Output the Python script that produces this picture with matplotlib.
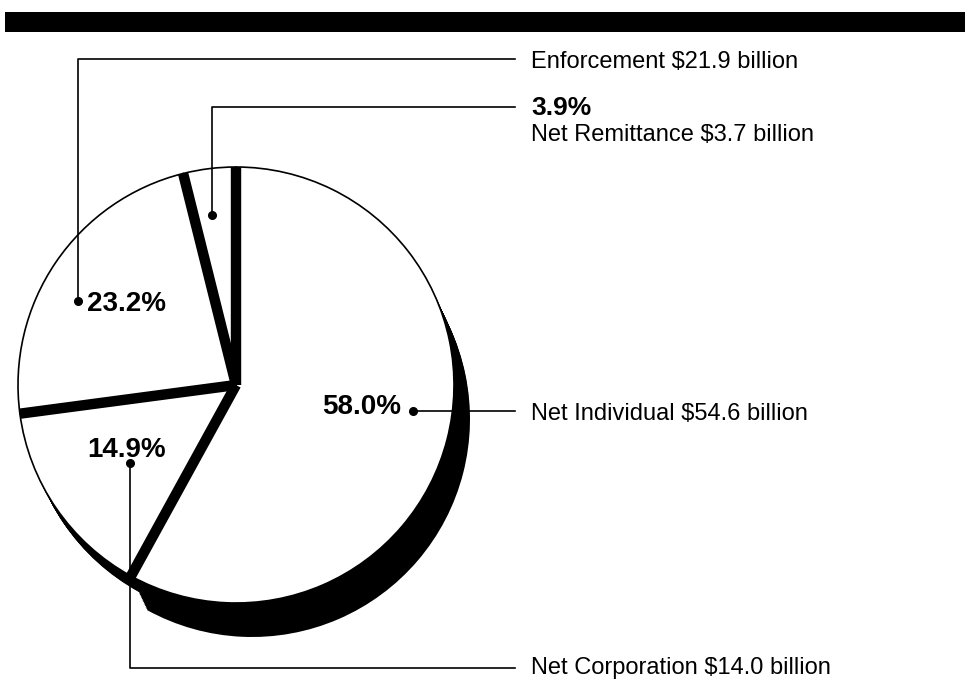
import matplotlib.pyplot as plt
import numpy as np

plt.rcParams['font.family'] = ['Liberation Sans', 'DejaVu Sans']

# slices go clockwise from 12 o'clock
segments = ['Net Individual', 'Net Corporation', 'Enforcement', 'Net Remittance']
percent = [58.0, 14.9, 23.2, 3.9]
billions = [54.6, 14.0, 21.9, 3.7]

W, H = 965, 681
CX, CY, R = 236, H - 385, 218

fig = plt.figure(figsize=(W / 100, H / 100), dpi=100)
ax = fig.add_axes([0, 0, 1, 1])

# black "depth" under the big slice, thinner one under corporation
# (stack of shifted copies so the side looks extruded)
for (dx, dy), idx in [((16, -34), 0), ((8, -16), 1)]:
    cols = ['black' if i == idx else 'none' for i in range(len(percent))]
    for t in np.linspace(0.05, 1, 24):
        ax.pie(percent, startangle=90, counterclock=False, colors=cols,
               radius=R, center=(CX + t * dx, CY + t * dy),
               wedgeprops=dict(linewidth=0.8, edgecolor='none'))

ax.pie(percent, startangle=90, counterclock=False, colors=['white'] * len(percent),
       radius=R, center=(CX, CY), wedgeprops=dict(edgecolor='black', linewidth=1.2))

# thick dividers between slices
bounds = 90 - 360 * np.cumsum([0] + percent[:-1]) / 100
for a in np.radians(bounds):
    ax.plot([CX, CX + R * np.cos(a)], [CY, CY + R * np.sin(a)],
            color='black', lw=7.5, solid_capstyle='butt')

# top rule
ax.fill_between([5, W], H - 32, H - 12, color='black', lw=0)


def leader(pts):
    xs = [p[0] for p in pts]
    ys = [H - p[1] for p in pts]
    ax.plot(xs, ys, color='black', lw=1.2)
    ax.plot(xs[0], ys[0], 'o', color='black', ms=5.5)


def label(x, base, s, **kw):
    ax.text(x, H - base, s, va='baseline', ha=kw.pop('ha', 'left'), **kw)


TX = 531
LBL = 17
PCT = 20

def name(i):
    return f'{segments[i]} ${billions[i]:.1f} billion'

def pct(i):
    return f'{percent[i]:.1f}%'

# Net Individual
leader([(413, 411), (515, 411)])
label(401, 414, pct(0), ha='right', fontsize=PCT, fontweight='bold')
label(TX, 420, name(0), fontsize=LBL)

# Net Corporation
leader([(130, 463), (130, 668), (515, 668)])
label(87, 457, pct(1), fontsize=PCT, fontweight='bold')
label(TX, 674, name(1), fontsize=LBL)

# Enforcement
leader([(78, 301), (78, 59), (515, 59)])
label(87, 311, pct(2), fontsize=PCT, fontweight='bold')
label(TX, 68, name(2), fontsize=LBL)

# Net Remittance
leader([(212, 215), (212, 107), (515, 107)])
label(TX, 115, pct(3), fontsize=19, fontweight='bold')
label(TX, 141, name(3), fontsize=LBL)

ax.set_xlim(0, W)
ax.set_ylim(0, H)
ax.axis('off')

fig.savefig('out.png', dpi=100)
